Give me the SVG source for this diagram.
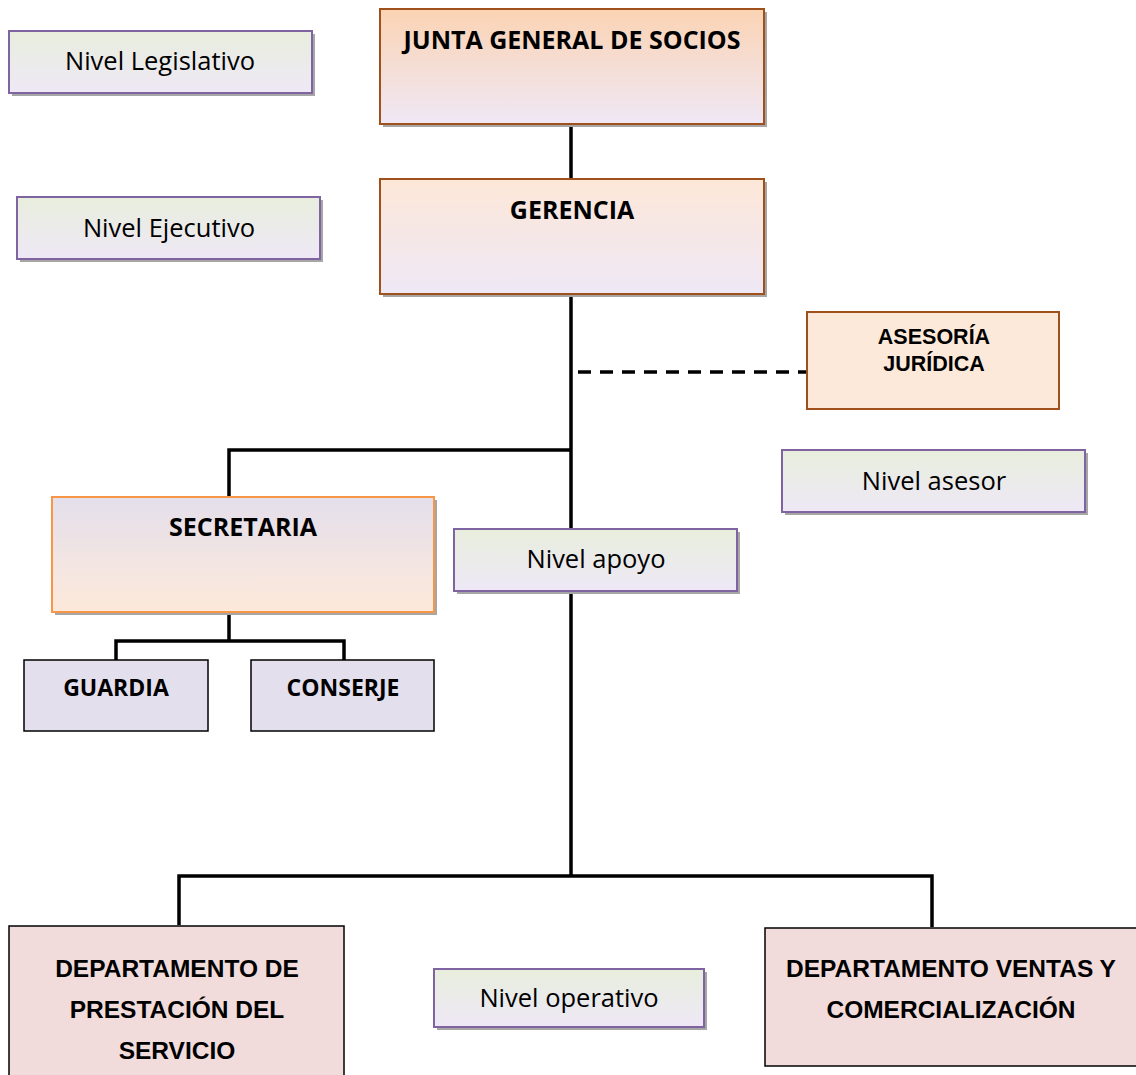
<svg xmlns="http://www.w3.org/2000/svg" width="1136" height="1075" viewBox="0 0 1136 1075">
<defs>
<linearGradient id="gNivel" x1="0" y1="0" x2="0" y2="1"><stop offset="0" stop-color="#e8eedd"/><stop offset="1" stop-color="#eee8f6"/></linearGradient>
<linearGradient id="gJunta" x1="0" y1="0" x2="0" y2="1"><stop offset="0" stop-color="#fbd3b3"/><stop offset="1" stop-color="#efe8f6"/></linearGradient>
<linearGradient id="gGer" x1="0" y1="0" x2="0" y2="1"><stop offset="0" stop-color="#fde7d8"/><stop offset="1" stop-color="#eee8f6"/></linearGradient>
<linearGradient id="gSec" x1="0" y1="0" x2="0" y2="1"><stop offset="0" stop-color="#e4dfec"/><stop offset="1" stop-color="#fde9da"/></linearGradient>
</defs>
<style>
.shadow{fill:#a6a6a6}
.nivel{fill:url(#gNivel);stroke:#8064a2;stroke-width:2}
.brown{stroke:#a0501a;stroke-width:2}
.sec{fill:url(#gSec);stroke:#f79646;stroke-width:2}
.sub{fill:#e4dfec;stroke:#000;stroke-width:1.5}
.dep{fill:#f2dcdb;stroke:#000;stroke-width:1.5}
.t{font-family:"Open Sans","Liberation Sans",sans-serif;font-size:25.5px;fill:#000;text-anchor:middle}
.tb{font-family:"Open Sans","Liberation Sans",sans-serif;font-size:25px;font-weight:bold;fill:#000;text-anchor:middle}
.ts{font-family:"Open Sans","Liberation Sans",sans-serif;font-size:23px;font-weight:bold;fill:#000;text-anchor:middle}
.ta{font-family:"Liberation Sans",Arial,sans-serif;font-size:24.5px;font-weight:bold;fill:#000;text-anchor:middle}
.ta2{font-family:"Liberation Sans",Arial,sans-serif;font-size:21.5px;font-weight:bold;fill:#000;text-anchor:middle}
.c{fill:none;stroke:#000;stroke-width:3.5}
</style>
<g id="connectors">
<line class="c" x1="571" y1="124" x2="571" y2="179"/>
<line class="c" x1="571" y1="294" x2="571" y2="530"/>
<line class="c" x1="571" y1="591" x2="571" y2="875"/>
<line class="c" x1="578" y1="372" x2="807" y2="372" stroke-dasharray="13,9"/>
<polyline class="c" points="571,450 229,450 229,497"/>
<polyline class="c" points="229,612 229,641"/>
<polyline class="c" points="116,660 116,641 344,641 344,660"/>
<polyline class="c" points="179,925 179,876 932,876 932,927"/>
</g>
<g id="nivel-legislativo">
<rect class="shadow" x="12" y="34" width="303" height="62"/>
<rect class="nivel" x="9" y="31" width="303" height="62"/>
<text class="t" x="160" y="70">Nivel Legislativo</text>
</g>
<g id="nivel-ejecutivo">
<rect class="shadow" x="20" y="200" width="303" height="62"/>
<rect class="nivel" x="17" y="197" width="303" height="62"/>
<text class="t" x="169" y="237">Nivel Ejecutivo</text>
</g>
<g id="junta">
<rect class="shadow" x="383" y="12" width="384" height="115"/>
<rect class="brown" fill="url(#gJunta)" x="380" y="9" width="384" height="115"/>
<text class="tb" x="572" y="49">JUNTA GENERAL DE SOCIOS</text>
</g>
<g id="gerencia">
<rect class="shadow" x="383" y="182" width="384" height="115"/>
<rect class="brown" fill="url(#gGer)" x="380" y="179" width="384" height="115"/>
<text class="tb" x="572" y="219">GERENCIA</text>
</g>
<g id="asesoria">
<rect class="brown" fill="#fde9d9" x="807" y="312" width="252" height="97"/>
<text class="ta2" x="934" y="344">ASESORÍA</text>
<text class="ta2" x="934" y="371">JURÍDICA</text>
</g>
<g id="nivel-asesor">
<rect class="shadow" x="785" y="453" width="303" height="62"/>
<rect class="nivel" x="782" y="450" width="303" height="62"/>
<text class="t" x="934" y="490">Nivel asesor</text>
</g>
<g id="secretaria">
<rect class="shadow" x="55" y="500" width="382" height="115"/>
<rect class="sec" x="52" y="497" width="382" height="115"/>
<text class="tb" x="243" y="536">SECRETARIA</text>
</g>
<g id="nivel-apoyo">
<rect class="shadow" x="457" y="532" width="283" height="62"/>
<rect class="nivel" x="454" y="529" width="283" height="62"/>
<text class="t" x="596" y="568">Nivel apoyo</text>
</g>
<g id="guardia">
<rect class="sub" x="24" y="660" width="184" height="71"/>
<text class="ts" x="116" y="696">GUARDIA</text>
</g>
<g id="conserje">
<rect class="sub" x="251" y="660" width="183" height="71"/>
<text class="ts" x="343" y="696">CONSERJE</text>
</g>
<g id="dep-prestacion">
<rect class="dep" x="9" y="926" width="335" height="160"/>
<text class="ta" x="177" y="977">DEPARTAMENTO DE</text>
<text class="ta" x="177" y="1018">PRESTACIÓN DEL</text>
<text class="ta" x="177" y="1059">SERVICIO</text>
</g>
<g id="nivel-operativo">
<rect class="shadow" x="437" y="972" width="270" height="58"/>
<rect class="nivel" x="434" y="969" width="270" height="58"/>
<text class="t" x="569" y="1007">Nivel operativo</text>
</g>
<g id="dep-ventas">
<rect class="dep" x="765" y="928" width="380" height="138"/>
<text class="ta" x="951" y="977">DEPARTAMENTO VENTAS Y</text>
<text class="ta" x="951" y="1018">COMERCIALIZACIÓN</text>
</g>
</svg>
